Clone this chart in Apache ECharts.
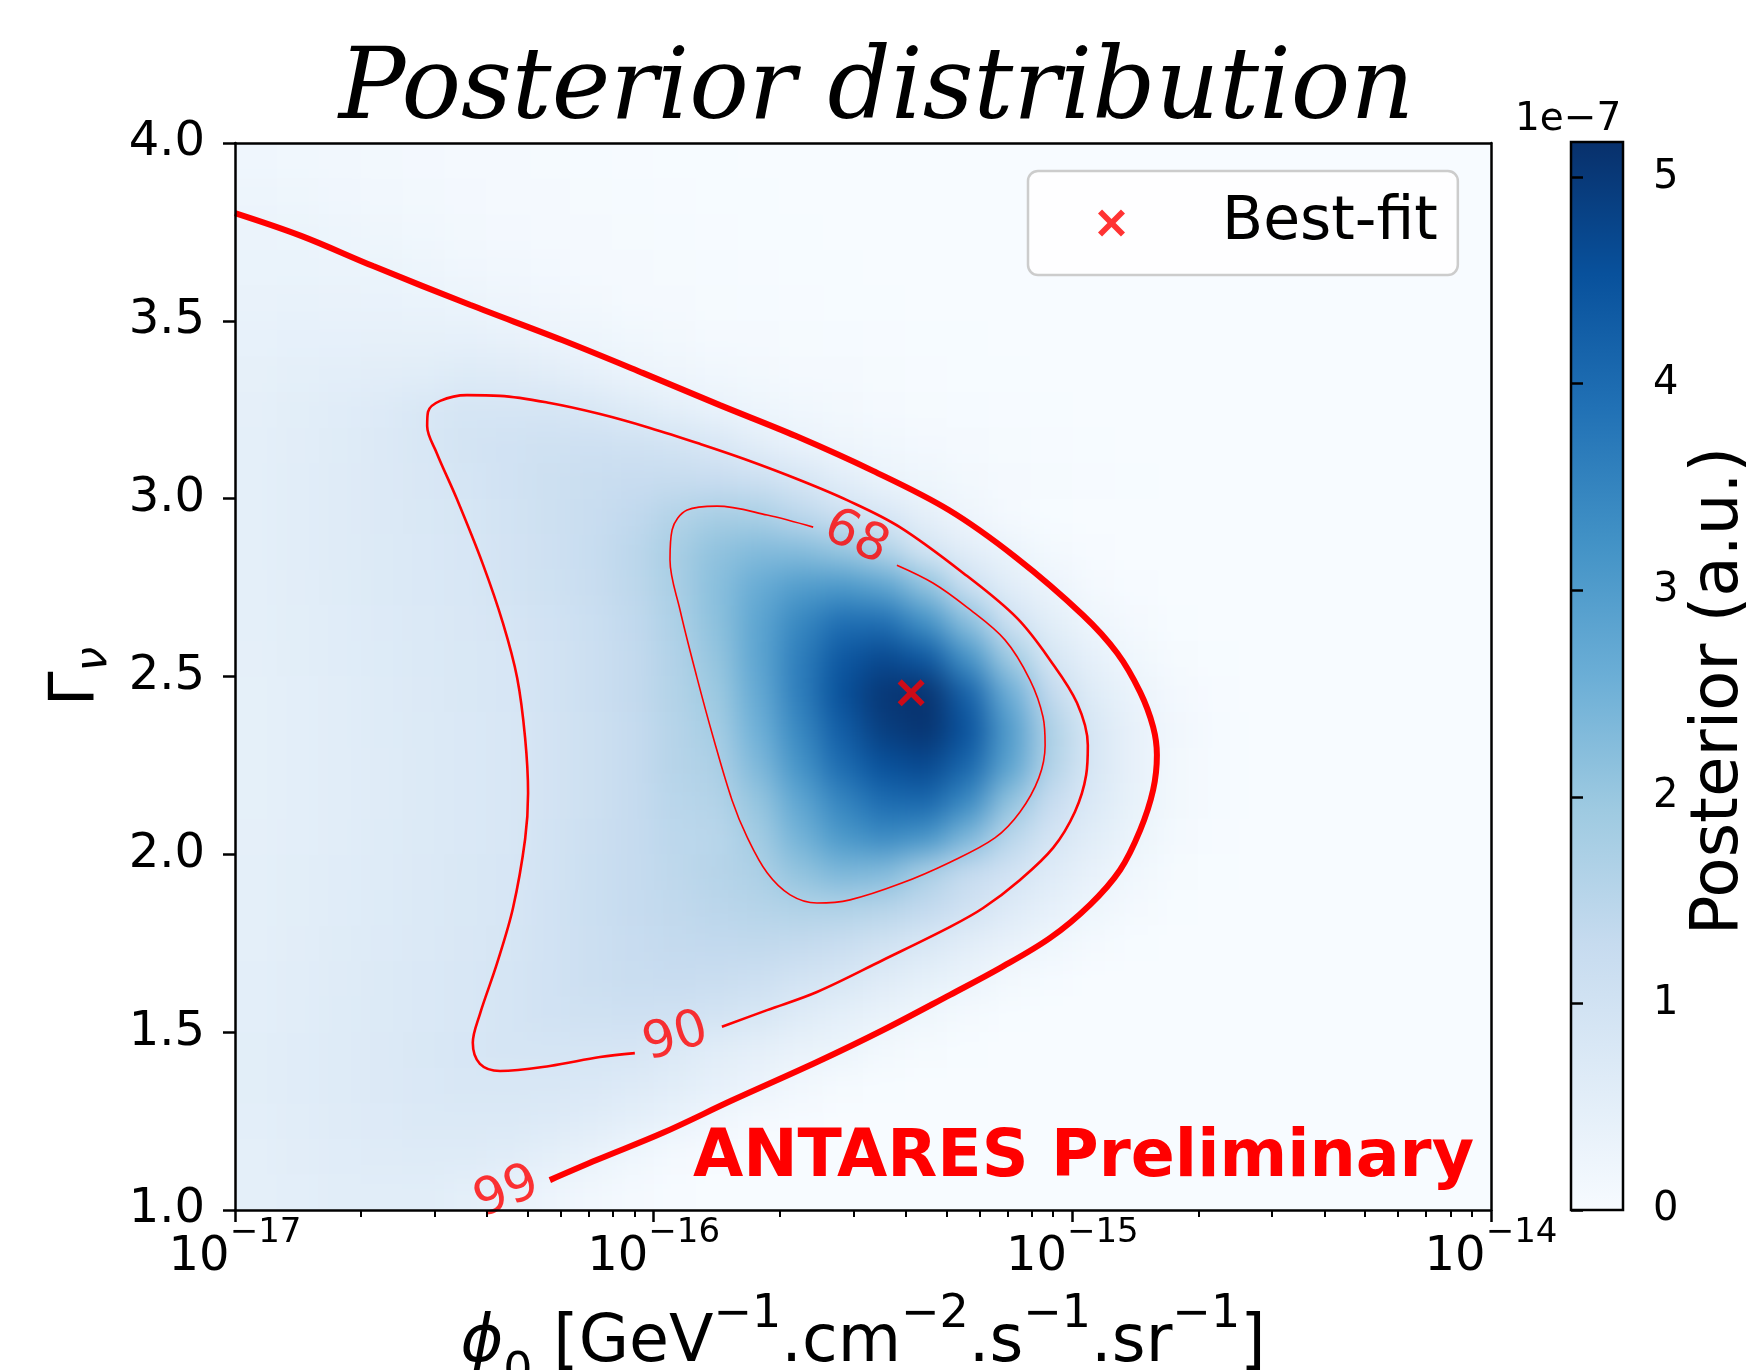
<!DOCTYPE html>
<html>
<head>
<meta charset="utf-8">
<script src="https://cdn.jsdelivr.net/npm/echarts@6/dist/echarts.min.js"></script>
<style>
html,body{margin:0;padding:0;background:#ffffff;}
#wrap{position:relative;width:1753px;height:1370px;background:#ffffff;}
#heatClip{position:absolute;overflow:hidden;}
#heat{position:absolute;}
#chart{position:absolute;left:0;top:0;width:1753px;height:1370px;}
</style>
</head>
<body>
<div id="wrap">
  <div id="heatClip"><div id="heat"></div></div>
  <div id="chart"></div>
</div>
<script>
// ---------------- DATA ----------------
// Cell centres: x = log10(phi0), y = Gamma_nu
const logPhiCenters = [-16.95,-16.85,-16.75,-16.65,-16.55,-16.45,-16.35,-16.25,-16.15,-16.05,
                       -15.95,-15.85,-15.75,-15.65,-15.55,-15.45,-15.35,-15.25,-15.15,-15.05,
                       -14.95,-14.85,-14.75,-14.65,-14.55,-14.45,-14.35,-14.25,-14.15,-14.05];
const gammaCenters = [3.95,3.85,3.75,3.65,3.55,3.45,3.35,3.25,3.15,3.05,
                      2.95,2.85,2.75,2.65,2.55,2.45,2.35,2.25,2.15,2.05,
                      1.95,1.85,1.75,1.65,1.55,1.45,1.35,1.25,1.15,1.05];
// Posterior in units of 1e-7, one row per gammaCenters entry, one column per logPhiCenters entry
const posterior = [
 [.20,.18,.15,.13,.11,.09,.07,.06,.04,.03,.02,.02,.01,.01,0,0,0,0,0,0,0,0,0,0,0,0,0,0,0,0],
 [.25,.22,.19,.16,.13,.11,.09,.07,.05,.04,.03,.02,.02,.01,.01,0,0,0,0,0,0,0,0,0,0,0,0,0,0,0],
 [.31,.30,.25,.21,.17,.14,.11,.09,.07,.05,.04,.03,.02,.02,.01,.01,0,0,0,0,0,0,0,0,0,0,0,0,0,0],
 [.34,.33,.31,.30,.25,.19,.15,.12,.09,.07,.05,.04,.03,.02,.02,.01,.01,0,0,0,0,0,0,0,0,0,0,0,0,0],
 [.37,.38,.37,.36,.34,.30,.24,.19,.14,.09,.07,.05,.04,.03,.02,.02,.01,.01,0,0,0,0,0,0,0,0,0,0,0,0],
 [.41,.43,.44,.45,.45,.44,.39,.31,.26,.17,.13,.09,.07,.05,.04,.03,.02,.02,.01,.01,.01,0,0,0,0,0,0,0,0,0],
 [.45,.48,.51,.55,.58,.66,.63,.55,.44,.31,.24,.18,.13,.09,.07,.05,.03,.02,.02,.01,.01,0,0,0,0,0,0,0,0,0],
 [.47,.53,.60,.68,.80,.88,.90,.88,.80,.65,.49,.35,.25,.18,.13,.09,.06,.04,.03,.02,.01,0,0,0,0,0,0,0,0,0],
 [.49,.55,.62,.71,.82,.93,1.0,1.05,1.08,1.06,.98,.82,.55,.36,.24,.17,.11,.07,.05,.03,.02,.01,0,0,0,0,0,0,0,0],
 [.50,.56,.63,.71,.79,.88,1.0,1.1,1.18,1.24,1.27,1.25,1.12,.88,.58,.34,.22,.14,.09,.05,.03,.02,.01,0,0,0,0,0,0,0],
 [.50,.56,.63,.71,.78,.86,.98,1.10,1.22,1.36,1.6,1.8,1.76,1.45,1.10,.84,.47,.23,.07,.02,.01,0,0,0,0,0,0,0,0,0],
 [.50,.56,.63,.70,.76,.83,.95,1.08,1.23,1.45,1.78,2.12,2.30,2.28,2.05,1.65,.93,.55,.33,.10,.03,.01,0,0,0,0,0,0,0,0],
 [.49,.55,.62,.69,.75,.81,.93,1.07,1.22,1.42,1.74,2.2,2.65,3.0,3.1,2.85,2.15,1.15,.58,.31,.09,.03,.01,0,0,0,0,0,0,0],
 [.48,.54,.60,.67,.73,.79,.87,1.0,1.15,1.35,1.68,2.15,2.8,3.45,3.95,3.95,3.25,2.2,1.08,.53,.25,.08,.02,.01,0,0,0,0,0,0],
 [.47,.53,.59,.66,.72,.78,.84,.98,1.13,1.33,1.62,2.05,2.8,3.65,4.4,4.7,4.4,3.2,1.9,.86,.44,.18,.05,.02,.01,0,0,0,0,0],
 [.46,.52,.58,.65,.71,.77,.83,.96,1.12,1.32,1.6,1.95,2.7,3.65,4.55,5.05,5.15,4.2,2.6,1.32,.62,.33,.11,.03,.01,0,0,0,0,0],
 [.46,.51,.57,.64,.70,.76,.82,.95,1.1,1.3,1.55,1.82,2.55,3.45,4.3,4.9,5.1,4.5,3.0,1.65,.80,.40,.15,.04,.01,0,0,0,0,0],
 [.46,.51,.57,.63,.69,.75,.81,.95,1.1,1.3,1.55,1.7,2.35,3.2,4.0,4.55,4.7,4.1,2.85,1.6,.80,.40,.14,.04,.01,0,0,0,0,0],
 [.46,.51,.57,.63,.69,.75,.81,.95,1.1,1.28,1.5,1.6,2.05,2.8,3.5,4.0,4.1,3.4,2.1,1.25,.72,.38,.13,.04,.01,0,0,0,0,0],
 [.47,.52,.58,.64,.70,.76,.82,.96,1.12,1.3,1.45,1.5,1.85,2.5,3.1,3.4,3.2,2.4,1.5,.92,.58,.30,.10,.03,.01,0,0,0,0,0],
 [.48,.53,.59,.65,.71,.77,.83,.98,1.15,1.3,1.42,1.55,1.7,2.1,2.4,2.3,1.75,1.3,1.0,.65,.40,.18,.05,.02,.01,0,0,0,0,0],
 [.49,.54,.60,.66,.72,.78,.84,1.0,1.15,1.28,1.38,1.47,1.56,1.65,1.65,1.55,1.35,1.05,.68,.44,.25,.08,.02,.01,0,0,0,0,0,0],
 [.50,.55,.61,.67,.73,.79,.86,1.0,1.14,1.25,1.32,1.36,1.37,1.33,1.2,1.02,.80,.55,.40,.22,.07,.02,.01,0,0,0,0,0,0,0],
 [.51,.57,.63,.69,.75,.81,.88,1.0,1.12,1.2,1.24,1.22,1.12,.98,.86,.63,.46,.33,.13,.04,.01,0,0,0,0,0,0,0,0,0],
 [.52,.58,.64,.70,.76,.82,.90,.99,1.05,1.08,1.05,.97,.85,.64,.48,.37,.22,.07,.02,.01,0,0,0,0,0,0,0,0,0,0],
 [.53,.59,.65,.71,.77,.84,.88,.90,.90,.87,.73,.58,.47,.37,.30,.14,.05,.02,.01,0,0,0,0,0,0,0,0,0,0,0],
 [.53,.59,.65,.71,.76,.80,.82,.81,.76,.68,.56,.44,.32,.16,.06,.02,.01,0,0,0,0,0,0,0,0,0,0,0,0,0],
 [.52,.58,.63,.68,.72,.74,.73,.68,.60,.48,.35,.19,.08,.03,.01,0,0,0,0,0,0,0,0,0,0,0,0,0,0,0],
 [.50,.55,.60,.63,.65,.65,.60,.50,.37,.20,.09,.03,.01,0,0,0,0,0,0,0,0,0,0,0,0,0,0,0,0,0],
 [.48,.52,.56,.58,.56,.50,.40,.27,.15,.07,.03,.01,0,0,0,0,0,0,0,0,0,0,0,0,0,0,0,0,0,0]
];
// Credible-region contours, points as [log10(phi0), Gamma]
const contour68 = [[-15.419,2.813],[-15.333,2.763],[-15.252,2.695],[-15.161,2.603],[-15.101,2.490],[-15.070,2.386],[-15.065,2.307],[-15.080,2.215],[-15.125,2.119],[-15.185,2.046],[-15.292,1.978],[-15.412,1.917],[-15.531,1.872],[-15.610,1.863],[-15.674,1.886],[-15.729,1.948],[-15.777,2.049],[-15.813,2.153],[-15.858,2.330],[-15.897,2.499],[-15.937,2.687],[-15.961,2.828],[-15.956,2.912],[-15.920,2.968],[-15.849,2.979],[-15.729,2.954],[-15.619,2.920]];
const contour90 = [[-15.837,1.515],[-15.729,1.562],[-15.610,1.613],[-15.452,1.703],[-15.292,1.796],[-15.213,1.849],[-15.125,1.928],[-15.046,2.018],[-14.994,2.119],[-14.967,2.223],[-14.963,2.307],[-14.989,2.426],[-15.053,2.546],[-15.132,2.664],[-15.252,2.783],[-15.412,2.920],[-15.538,2.996],[-15.650,3.052],[-15.782,3.111],[-15.889,3.154],[-16.009,3.199],[-16.128,3.238],[-16.248,3.269],[-16.367,3.289],[-16.446,3.291],[-16.510,3.275],[-16.539,3.244],[-16.541,3.204],[-16.518,3.128],[-16.470,2.999],[-16.408,2.816],[-16.360,2.650],[-16.326,2.496],[-16.307,2.327],[-16.300,2.172],[-16.307,2.043],[-16.336,1.849],[-16.374,1.694],[-16.415,1.551],[-16.432,1.470],[-16.415,1.411],[-16.367,1.391],[-16.248,1.405],[-16.128,1.430],[-16.045,1.441]];
const contour99 = [[-17.000,3.803],[-16.842,3.739],[-16.670,3.654],[-16.439,3.545],[-16.219,3.446],[-16.025,3.353],[-15.842,3.263],[-15.660,3.176],[-15.476,3.078],[-15.295,2.968],[-15.135,2.835],[-14.975,2.673],[-14.893,2.566],[-14.838,2.456],[-14.807,2.358],[-14.798,2.279],[-14.807,2.181],[-14.838,2.068],[-14.886,1.956],[-14.958,1.858],[-15.053,1.765],[-15.173,1.680],[-15.292,1.605],[-15.452,1.506],[-15.610,1.416],[-15.811,1.309],[-15.978,1.217],[-16.135,1.141],[-16.248,1.084]];
const contourLabelText = ['68','90','99'];
const contourLabelPos = [[-15.517,2.889],[-15.947,1.484],[-16.350,1.048]];
const bestFit = [-15.385, 2.454];
const bestFitName = 'Best-fit';
// Axes / ticks
const xDecades = [-17,-16,-15,-14];
const minorMultipliers = [2,3,4,5,6,7,8,9];
const yTicks = [1.0,1.5,2.0,2.5,3.0,3.5,4.0];
const cbarTicks = [0,1,2,3,4,5];
const cbarMax = 5.17;
const titleText = 'Posterior distribution';
const watermark = 'ANTARES Preliminary';

// ---------------- STYLE / LAYOUT ----------------
const RED = '#ff0000';
const FONT = 'DejaVu Sans';
const blues = ['#f7fbff','#deebf7','#c6dbef','#9ecae1','#6baed6','#4292c6','#2171b5','#08519c','#08306b'];
const labelRotation = {'68': -25, '90': 17, '99': 22};
const lineWidths = {'68': 1.6, '90': 2.6, '99': 6};
const X_PATH = 'path://M1.5,0 L5,3.5 L8.5,0 L10,1.5 L6.5,5 L10,8.5 L8.5,10 L5,6.5 L1.5,10 L0,8.5 L3.5,5 L0,1.5 Z';
const MINUS = '\u2212';
const PLOT = {left: 235, top: 143, width: 1256, height: 1067};
const HEAT_PAD = 40, HEAT_BLUR = 15;
const xMin = xDecades[0], xMax = xDecades[xDecades.length - 1];
const yMin = yTicks[0], yMax = yTicks[yTicks.length - 1];

// ---------------- BUILD ----------------
const halfU = Math.abs(logPhiCenters[1] - logPhiCenters[0]) / 2;
const halfG = Math.abs(gammaCenters[0] - gammaCenters[1]) / 2;
const cells = [];
gammaCenters.forEach((g, r) => {
  posterior[r].forEach((v, c) => { cells.push([logPhiCenters[c], g, v]); });
});
const minorTicks = [];
xDecades.slice(0, -1).forEach(d => minorMultipliers.forEach(m => minorTicks.push(d + Math.log10(m))));

// --- heat layer (smoothed display of the cells) ---
const clip = document.getElementById('heatClip');
clip.style.left = PLOT.left + 'px'; clip.style.top = PLOT.top + 'px';
clip.style.width = PLOT.width + 'px'; clip.style.height = PLOT.height + 'px';
const heatDiv = document.getElementById('heat');
heatDiv.style.left = -HEAT_PAD + 'px'; heatDiv.style.top = -HEAT_PAD + 'px';
heatDiv.style.width = (PLOT.width + 2 * HEAT_PAD) + 'px';
heatDiv.style.height = (PLOT.height + 2 * HEAT_PAD) + 'px';
heatDiv.style.filter = 'blur(' + HEAT_BLUR + 'px)';

const heat = echarts.init(heatDiv, null, {renderer: 'canvas'});
const eps = 1e-9;
heat.setOption({
  animation: false,
  backgroundColor: 'transparent',
  grid: {left: HEAT_PAD, top: HEAT_PAD, width: PLOT.width, height: PLOT.height, outerBoundsMode: 'none', show: false},
  xAxis: {type: 'value', min: xMin, max: xMax, show: false},
  yAxis: {type: 'value', min: yMin, max: yMax, show: false},
  visualMap: {type: 'continuous', show: false, min: 0, max: cbarMax, dimension: 2, seriesIndex: 0,
              inRange: {color: blues}},
  series: [{
    type: 'custom', name: 'posterior', clip: false, data: cells, encode: {x: 0, y: 1},
    renderItem: function (params, api) {
      const u = api.value(0), g = api.value(1);
      const p0 = api.coord([u - halfU, g + halfG]);
      const p1 = api.coord([u + halfU, g - halfG]);
      let x0 = p0[0], y0 = p0[1], x1 = p1[0] + 0.8, y1 = p1[1] + 0.8;
      if (u - halfU <= xMin + eps) x0 -= HEAT_PAD;
      if (u + halfU >= xMax - eps) x1 += HEAT_PAD;
      if (g + halfG >= yMax - eps) y0 -= HEAT_PAD;
      if (g - halfG <= yMin + eps) y1 += HEAT_PAD;
      return {type: 'rect', shape: {x: x0, y: y0, width: x1 - x0, height: y1 - y0},
              style: {fill: api.visual('color')}};
    }
  }]
});

// --- main chart (axes, contours, labels, colourbar) ---
const chart = echarts.init(document.getElementById('chart'), null, {renderer: 'canvas'});
const axisLineStyle = {color: '#000', width: 2.5};
const option = {
  backgroundColor: 'transparent',
  animation: false,
  title: [
    {text: titleText, left: 'center', top: 43, padding: 0,
     textStyle: {fontFamily: 'DejaVu Serif', fontStyle: 'italic', fontWeight: 'normal', fontSize: 99, color: '#000'}},
    {text: '1e' + MINUS + '7', left: 1515, top: 100, padding: 0,
     textStyle: {fontFamily: FONT, fontWeight: 'normal', fontSize: 39, color: '#000'}},
    {text: watermark, right: 279, top: 1127, padding: 0,
     textStyle: {fontFamily: FONT, fontWeight: 'bold', fontSize: 65, color: RED}}
  ],
  legend: {
    show: true, selectedMode: false,
    data: [{name: bestFitName, icon: X_PATH}],
    left: 1028, top: 171, itemWidth: 27, itemHeight: 27,
    padding: [22, 20, 22, 70],
    backgroundColor: 'rgba(255,255,255,0.8)', borderColor: '#cccccc', borderWidth: 2.5, borderRadius: 10,
    textStyle: {fontFamily: FONT, fontSize: 60, color: '#000', padding: [0, 0, 0, 92]}
  },
  grid: [
    {left: PLOT.left, top: PLOT.top, width: PLOT.width, height: PLOT.height, show: false, outerBoundsMode: 'none'},
    {left: 1571, top: 142, width: 52, height: 1068, show: true, borderColor: '#000', borderWidth: 2.5,
     outerBoundsMode: 'none',
     backgroundColor: new echarts.graphic.LinearGradient(0, 1, 0, 0,
        blues.map((c, i) => ({offset: i / (blues.length - 1), color: c})))}
  ],
  xAxis: [
    {gridIndex: 0, type: 'value', min: xMin, max: xMax, interval: 1, position: 'bottom', z: 10,
     axisLine: {show: true, onZero: false, lineStyle: axisLineStyle},
     axisTick: {show: true, inside: false, length: 12, lineStyle: {color: '#000', width: 2.5}},
     splitLine: {show: false},
     axisLabel: {margin: 6, color: '#000',
       formatter: v => '{b|10}{s|' + MINUS + Math.abs(v) + '}',
       rich: {b: {fontFamily: FONT, fontSize: 48, lineHeight: 84, color: '#000'},
              s: {fontFamily: FONT, fontSize: 34, lineHeight: 76, verticalAlign: 'top', color: '#000'}}},
     name: '{p|\u03d5}{sb|0}{t| [GeV}{sp|' + MINUS + '1}{t|.cm}{sp|' + MINUS + '2}{t|.s}{sp|' + MINUS + '1}{t|.sr}{sp|' + MINUS + '1}{t|]}',
     nameLocation: 'middle', nameGap: 82,
     nameTextStyle: {rich: {
       p: {fontFamily: FONT, fontStyle: 'italic', fontSize: 65, lineHeight: 104, color: '#000'},
       t: {fontFamily: FONT, fontSize: 65, lineHeight: 104, color: '#000'},
       sp: {fontFamily: FONT, fontSize: 46, lineHeight: 46, verticalAlign: 'top', color: '#000'},
       sb: {fontFamily: FONT, fontSize: 46, lineHeight: 76, verticalAlign: 'bottom', color: '#000'}}}},
    {gridIndex: 0, type: 'value', min: xMin, max: xMax, position: 'bottom', z: 10,
     axisLine: {show: false}, axisLabel: {show: false}, splitLine: {show: false},
     axisTick: {show: true, inside: false, length: 7, customValues: minorTicks, lineStyle: {color: '#000', width: 2}}},
    {gridIndex: 0, type: 'value', min: xMin, max: xMax, position: 'top', z: 10,
     axisLine: {show: true, onZero: false, lineStyle: axisLineStyle}, axisTick: {show: false},
     axisLabel: {show: false}, splitLine: {show: false}},
    {gridIndex: 1, type: 'value', min: 0, max: 1, show: false}
  ],
  yAxis: [
    {gridIndex: 0, type: 'value', min: yMin, max: yMax, interval: 0.5, position: 'left', z: 10,
     axisLine: {show: true, onZero: false, lineStyle: axisLineStyle},
     axisTick: {show: true, inside: false, length: 12, lineStyle: {color: '#000', width: 2.5}},
     splitLine: {show: false},
     axisLabel: {margin: 30, fontFamily: FONT, fontSize: 48, color: '#000', formatter: v => v.toFixed(1)},
     name: '{g|\u0393}{n|\u03bd}', nameLocation: 'middle', nameRotate: 90, nameGap: 118,
     nameTextStyle: {rich: {
       g: {fontFamily: FONT, fontSize: 62, lineHeight: 80, color: '#000'},
       n: {fontFamily: FONT, fontStyle: 'italic', fontSize: 44, lineHeight: 60, verticalAlign: 'bottom', color: '#000'}}}},
    {gridIndex: 0, type: 'value', min: yMin, max: yMax, position: 'right', z: 10,
     axisLine: {show: true, onZero: false, lineStyle: axisLineStyle}, axisTick: {show: false},
     axisLabel: {show: false}, splitLine: {show: false}},
    {gridIndex: 1, type: 'value', min: 0, max: cbarMax, position: 'right',
     axisLine: {show: false}, splitLine: {show: false},
     axisTick: {show: true, inside: false, length: 12, customValues: cbarTicks, lineStyle: {color: '#000', width: 2.5}},
     axisLabel: {margin: 30, fontFamily: FONT, fontSize: 40, color: '#000', customValues: cbarTicks, formatter: v => String(v)},
     name: 'Posterior (a.u.)', nameLocation: 'middle', nameRotate: 90, nameGap: 64,
     nameTextStyle: {fontFamily: FONT, fontSize: 66, color: '#000', padding: [0, 30, 0, 0]}}
  ],
  series: [
    {type: 'line', name: '99%', xAxisIndex: 0, yAxisIndex: 0, data: contour99, showSymbol: false, symbol: 'none',
     smooth: 0.35, clip: true, z: 5, lineStyle: {color: RED, width: lineWidths['99']}, silent: true},
    {type: 'line', name: '90%', xAxisIndex: 0, yAxisIndex: 0, data: contour90, showSymbol: false, symbol: 'none',
     smooth: 0.35, clip: true, z: 5, lineStyle: {color: RED, width: lineWidths['90']}, silent: true},
    {type: 'line', name: '68%', xAxisIndex: 0, yAxisIndex: 0, data: contour68, showSymbol: false, symbol: 'none',
     smooth: 0.35, clip: true, z: 5, lineStyle: {color: RED, width: lineWidths['68']}, silent: true},
    {type: 'scatter', name: 'contour labels', xAxisIndex: 0, yAxisIndex: 0, z: 6, silent: true,
     symbolSize: 1, itemStyle: {color: 'rgba(0,0,0,0)'},
     data: contourLabelText.map((t, i) => ({name: t, value: contourLabelPos[i],
        label: {rotate: labelRotation[t]}})),
     label: {show: true, position: 'inside', formatter: p => p.name,
             fontFamily: FONT, fontSize: 51, color: RED}},
    {type: 'scatter', name: bestFitName, xAxisIndex: 0, yAxisIndex: 0, z: 8,
     symbol: X_PATH, symbolSize: 27, itemStyle: {color: RED},
     data: [bestFit]}
  ]
};
chart.setOption(option);
</script>
</body>
</html>
